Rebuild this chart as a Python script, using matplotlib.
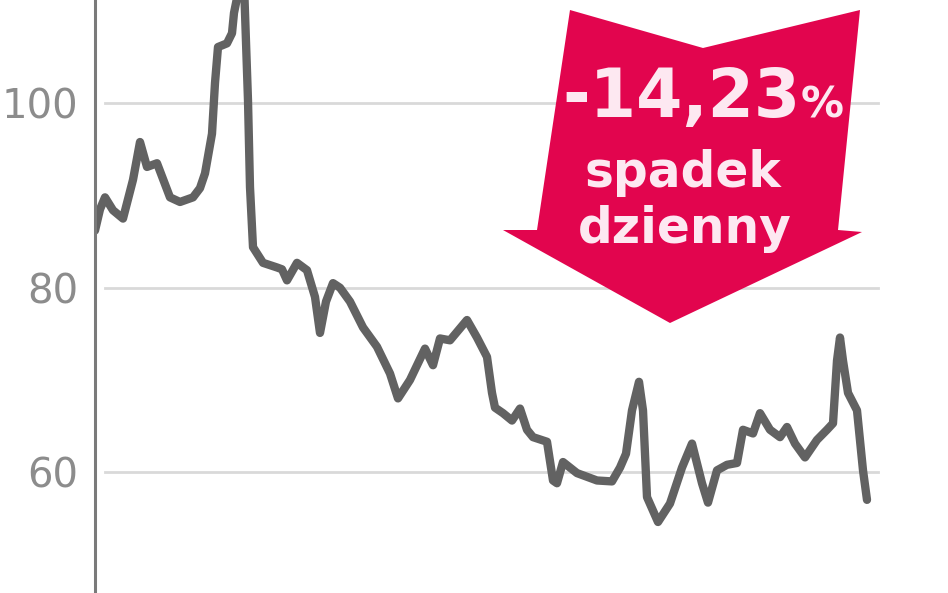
import matplotlib
matplotlib.use("Agg")
import matplotlib.pyplot as plt
from matplotlib.patches import Polygon

# ---- data (x = trading-day position, y = price) ----
days = [0, 5, 10, 18, 28, 38, 45, 52, 62, 75, 85, 98, 105, 110, 117, 120, 123,
        132, 137, 139, 145, 149, 153, 155, 158, 168, 182, 187, 192, 202, 212,
        220, 225, 231, 238, 245, 255, 268, 282, 295, 303, 315, 330, 338, 345,
        355, 372, 382, 392, 397, 400, 408, 417, 425, 432, 438, 452, 458, 462,
        468, 482, 502, 517, 525, 531, 537, 544, 548, 552, 563, 575, 587, 597,
        607, 613, 622, 632, 642, 648, 658, 665, 675, 685, 692, 700, 710, 722,
        732, 738, 742, 745, 748, 753, 762, 768, 772]
price = [86.2, 88.5, 89.8, 88.4, 87.5, 91.7, 95.8, 93.1, 93.5, 89.8, 89.3,
         89.8, 90.8, 92.4, 96.7, 102.2, 106.1, 106.5, 107.6, 109.8, 113.0,
         113.0, 100.3, 90.9, 84.4, 82.7, 82.2, 82.0, 80.8, 82.7, 81.9, 79.0,
         75.1, 78.5, 80.5, 80.0, 78.5, 75.7, 73.6, 70.7, 68.0, 70.0, 73.4,
         71.6, 74.5, 74.3, 76.5, 74.6, 72.5, 68.6, 67.0, 66.4, 65.6, 66.9,
         64.6, 63.8, 63.3, 59.1, 58.8, 61.1, 59.9, 59.1, 59.0, 60.5, 62.0,
         66.7, 69.8, 66.7, 57.3, 54.6, 56.6, 60.5, 63.1, 58.8, 56.7, 60.2,
         60.8, 61.0, 64.6, 64.2, 66.4, 64.6, 63.8, 64.9, 63.1, 61.6, 63.5,
         64.6, 65.3, 72.1, 74.6, 72.1, 68.6, 66.7, 60.2, 57.0]
yticks = [60, 80, 100]
ytick_labels = ["60", "80", "100"]
badge_value = "-14,23"
badge_pct = "%"
badge_lines = ["spadek", "dzienny"]

W, H = 948, 593
fig = plt.figure(figsize=(W / 100, H / 100), dpi=100)
fig.patch.set_facecolor("white")
ax = fig.add_axes([95 / W, 0, 1 - 95 / W, 1])
ax.set_facecolor("white")
ax.set_xlim(0, 853)
ax.set_ylim(46.9, 111.2)

for v in yticks:
    ax.axhline(v, xmin=0.012, xmax=0.918, color="#d9d9d9", lw=2.0, zorder=1)

ax.plot(days, price, color="#626262", lw=6.0, solid_joinstyle="round",
        solid_capstyle="round", zorder=2)

for s in ["top", "right", "bottom"]:
    ax.spines[s].set_visible(False)
ax.spines["left"].set_color("#7a7a7a")
ax.spines["left"].set_linewidth(2.2)
ax.set_xticks([])
ax.set_yticks(yticks)
ax.set_yticklabels(ytick_labels)
ax.tick_params(axis="y", length=0, pad=12, labelsize=29, labelcolor="#8c8c8c")

# ---- red badge arrow (figure pixel coordinates, y from top) ----
pts = [(570, 10), (703, 48), (860, 10), (838, 230), (862, 232),
       (670, 323), (503, 230), (537, 230)]
poly = Polygon([(x / W, 1 - y / H) for x, y in pts], closed=True,
               transform=fig.transFigure, facecolor="#e2054e",
               edgecolor="none", zorder=5)
fig.patches.append(poly)

tc = "#fde8f1"
fig.text(800 / W, 1 - 117 / H, badge_value, ha="right", va="baseline",
         fontsize=48, fontweight="bold", color=tc, zorder=6)
fig.text(801 / W, 1 - 117 / H, badge_pct, ha="left", va="baseline",
         fontsize=31, fontweight="bold", color=tc, zorder=6)
fig.text(683 / W, 1 - 187 / H, badge_lines[0], ha="center", va="baseline",
         fontsize=35, fontweight="bold", color=tc, zorder=6)
fig.text(685 / W, 1 - 243 / H, badge_lines[1], ha="center", va="baseline",
         fontsize=35, fontweight="bold", color=tc, zorder=6)

fig.savefig("out.png", dpi=100, facecolor="white")
